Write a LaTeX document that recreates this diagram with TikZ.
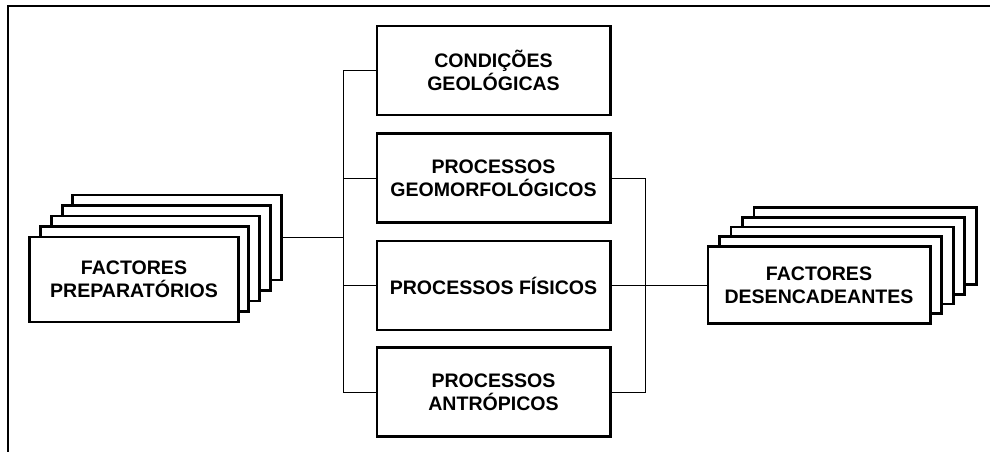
\documentclass[tikz,border=0pt]{standalone}
\usepackage{fontspec}
\setmainfont{Liberation Sans}
\usetikzlibrary{calc}

\begin{document}
\begin{tikzpicture}[x=0.025cm,y=-0.025cm]

\tikzstyle{procbox} = [draw=black, fill=white, line width=2.1pt,
    minimum width=5.825cm, minimum height=2.225cm, inner sep=0,
    align=center, font=\fontsize{13.9}{16.1}\selectfont\bfseries]
\tikzstyle{prepbox} = [procbox, minimum width=5.2cm, minimum height=2.125cm]
\tikzstyle{descbox} = [procbox, minimum width=5.55cm, minimum height=1.925cm]
\tikzstyle{link} = [draw=black, line width=0.7pt]

\useasboundingbox (0,0) rectangle (990,452);

% frame (only top and left edges show)
\draw[line width=1.4pt] (8,452) |- (990,6);

% =========================
% the four processes
% =========================
\node[procbox] (cond) at (493.5,70.5) {CONDIÇÕES\\GEOLÓGICAS};
\node[procbox] (geom) at (493.5,178) {PROCESSOS\\GEOMORFOLÓGICOS};
\node[procbox] (fis) at (493.5,285.5) {PROCESSOS FÍSICOS};
\node[procbox] (antr) at (493.5,392) {PROCESSOS\\ANTRÓPICOS};

% =========================
% stacked boxes - left (preparatory)
% =========================
\foreach \i in {4,3,2,1}
    \node[prepbox] (prep\i) at ({134+10.75*\i},{279.5-10.5*\i}) {};
\node[prepbox] (prep0) at (134,279.5) {FACTORES\\PREPARATÓRIOS};

% =========================
% stacked boxes - right (triggering)
% =========================
\foreach \i in {4,3,2,1}
    \node[descbox] (desc\i) at ({819+11.5*\i},{285-9.75*\i}) {};
\node[descbox] (desc0) at (819,285) {FACTORES\\DESENCADEANTES};

% buses
\coordinate (lbus) at (343,0);
\coordinate (rbus) at (645,0);

\draw[link] (cond.west) -- (cond.west -| lbus) -- (antr.west -| lbus) -- (antr.west);
\draw[link] (geom.west) -- (geom.west -| lbus);
\draw[link] (fis.west) -- (fis.west -| lbus);
\draw[link] (prep4.east) -- (prep4.east -| lbus);

\draw[link] (geom.east) -- (geom.east -| rbus) -- (antr.east -| rbus) -- (antr.east);
\draw[link] (fis.east) -- (fis.east -| desc0.west);

\end{tikzpicture}
\end{document}
